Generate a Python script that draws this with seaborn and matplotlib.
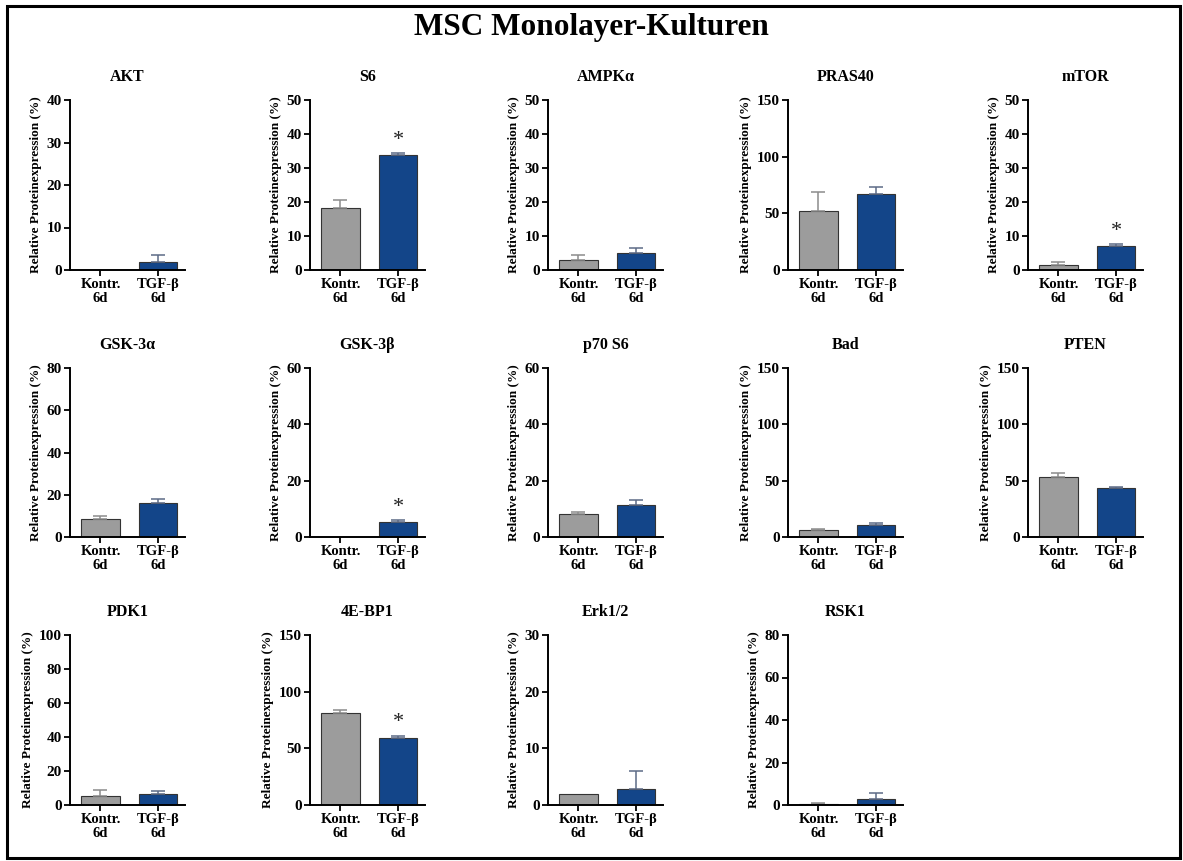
import numpy as np
import pandas as pd
import matplotlib
matplotlib.use("Agg")
import matplotlib.pyplot as plt
from matplotlib.patches import Rectangle
import seaborn as sns

# Proteins and their group means / SEM (relative protein expression, %)
proteins = ["AKT", "S6", "AMPK\u03b1", "PRAS40", "mTOR",
            "GSK-3\u03b1", "GSK-3\u03b2", "p70 S6", "Bad", "PTEN",
            "PDK1", "4E-BP1", "Erk1/2", "RSK1"]
groups = ["Kontr.\n6d", "TGF-\u03b2\n6d"]
kontr_mean = [0.1, 18.2, 3.0, 52.0, 1.5, 8.7, 0.1, 8.2, 6.5, 53.0, 5.5, 81.5, 2.0, 0.5]
kontr_sem = [0.0, 2.5, 1.5, 17.0, 0.8, 1.2, 0.0, 0.6, 0.8, 4.0, 3.5, 2.5, 0.0, 0.3]
tgf_mean = [2.0, 33.8, 5.0, 67.0, 7.0, 16.0, 5.5, 11.5, 10.5, 43.5, 6.2, 59.0, 2.8, 3.0]
tgf_sem = [1.5, 0.6, 1.5, 6.0, 0.6, 2.2, 0.4, 1.7, 2.0, 0.8, 2.3, 2.0, 3.2, 2.8]
y_max = [40, 50, 50, 150, 50, 80, 60, 60, 150, 150, 100, 150, 30, 80]
y_step = [10, 10, 10, 50, 10, 20, 20, 20, 50, 50, 20, 50, 10, 20]
significant = [False, True, False, False, True, False, True, False, False, False,
               False, True, False, False]

sns.set_theme(style="ticks")
plt.rcParams["font.family"] = ["Liberation Serif", "DejaVu Serif"]
plt.rcParams["font.weight"] = "bold"
plt.rcParams["text.color"] = "black"
plt.rcParams["axes.labelcolor"] = "black"
plt.rcParams["xtick.color"] = "black"
plt.rcParams["ytick.color"] = "black"

bar_colors = ["#9c9c9c", "#134589"]
err_colors = ["#8c8c8c", "#5d6b86"]

fig = plt.figure(figsize=(11.83, 8.61), dpi=100)
W, H = 1183, 861

col_left = [70, 310, 548, 788, 1028]
row_top = [100, 368, 635]
row_bottom = [270, 537, 805]
ax_w = 115

for i, name in enumerate(proteins):
    r, c = divmod(i, 5)
    left = col_left[c] / W
    bottom = 1 - row_bottom[r] / H
    height = (row_bottom[r] - row_top[r]) / H
    ax = fig.add_axes([left, bottom, ax_w / W, height])

    df = pd.DataFrame({"Gruppe": groups,
                       "Wert": [kontr_mean[i], tgf_mean[i]],
                       "SEM": [kontr_sem[i], tgf_sem[i]]})
    sns.barplot(data=df, x="Gruppe", y="Wert", hue="Gruppe", order=groups,
                palette=bar_colors, saturation=1, width=0.67,
                edgecolor="#333333", linewidth=0.8, errorbar=None,
                legend=False, ax=ax)
    for j in range(2):
        if df["SEM"][j] > 0:
            ax.errorbar(j, df["Wert"][j], yerr=[[0], [df["SEM"][j]]],
                        fmt="none", ecolor=err_colors[j], elinewidth=1.1,
                        capsize=5, capthick=1.1, zorder=1)
    if significant[i]:
        top = tgf_mean[i] + tgf_sem[i]
        ax.text(1, top + y_max[i] * 0.02, "*", ha="center", va="bottom",
                fontsize=16, fontweight="normal", color="#222222")

    ax.set_xlim(-0.53, 1.47)
    ax.set_ylim(0, y_max[i])
    ax.set_yticks(np.arange(0, y_max[i] + 1, y_step[i]))
    ax.set_xlabel("")
    ax.set_ylabel("Relative Proteinexpression (%)", fontsize=9.5,
                  fontweight="bold", labelpad=3)
    ax.set_title(name, fontsize=11.5, fontweight="bold", pad=14)
    ax.tick_params(axis="both", labelsize=10.5, width=1.3, length=4,
                   direction="out", color="black", pad=2)
    ax.tick_params(axis="y", labelsize=11)
    for lab in ax.get_xticklabels() + ax.get_yticklabels():
        lab.set_fontweight("bold")
    for lab in ax.get_xticklabels():
        lab.set_linespacing(1.1)
    for side in ["top", "right"]:
        ax.spines[side].set_visible(False)
    for side in ["left", "bottom"]:
        ax.spines[side].set_linewidth(1.4)
        ax.spines[side].set_color("black")
    ax.set_facecolor("white")

fig.text(0.5, 1 - 28 / H, "MSC Monolayer-Kulturen", ha="center", va="center",
         fontsize=22.5, fontweight="bold")

# Outer frame around the panel
fig.patches.append(Rectangle((7 / W, 3 / H), (1180 - 7) / W, (855 - 3) / H,
                             transform=fig.transFigure, fill=False,
                             edgecolor="black", linewidth=2.2))

fig.savefig("out.png", dpi=100, facecolor="white")
